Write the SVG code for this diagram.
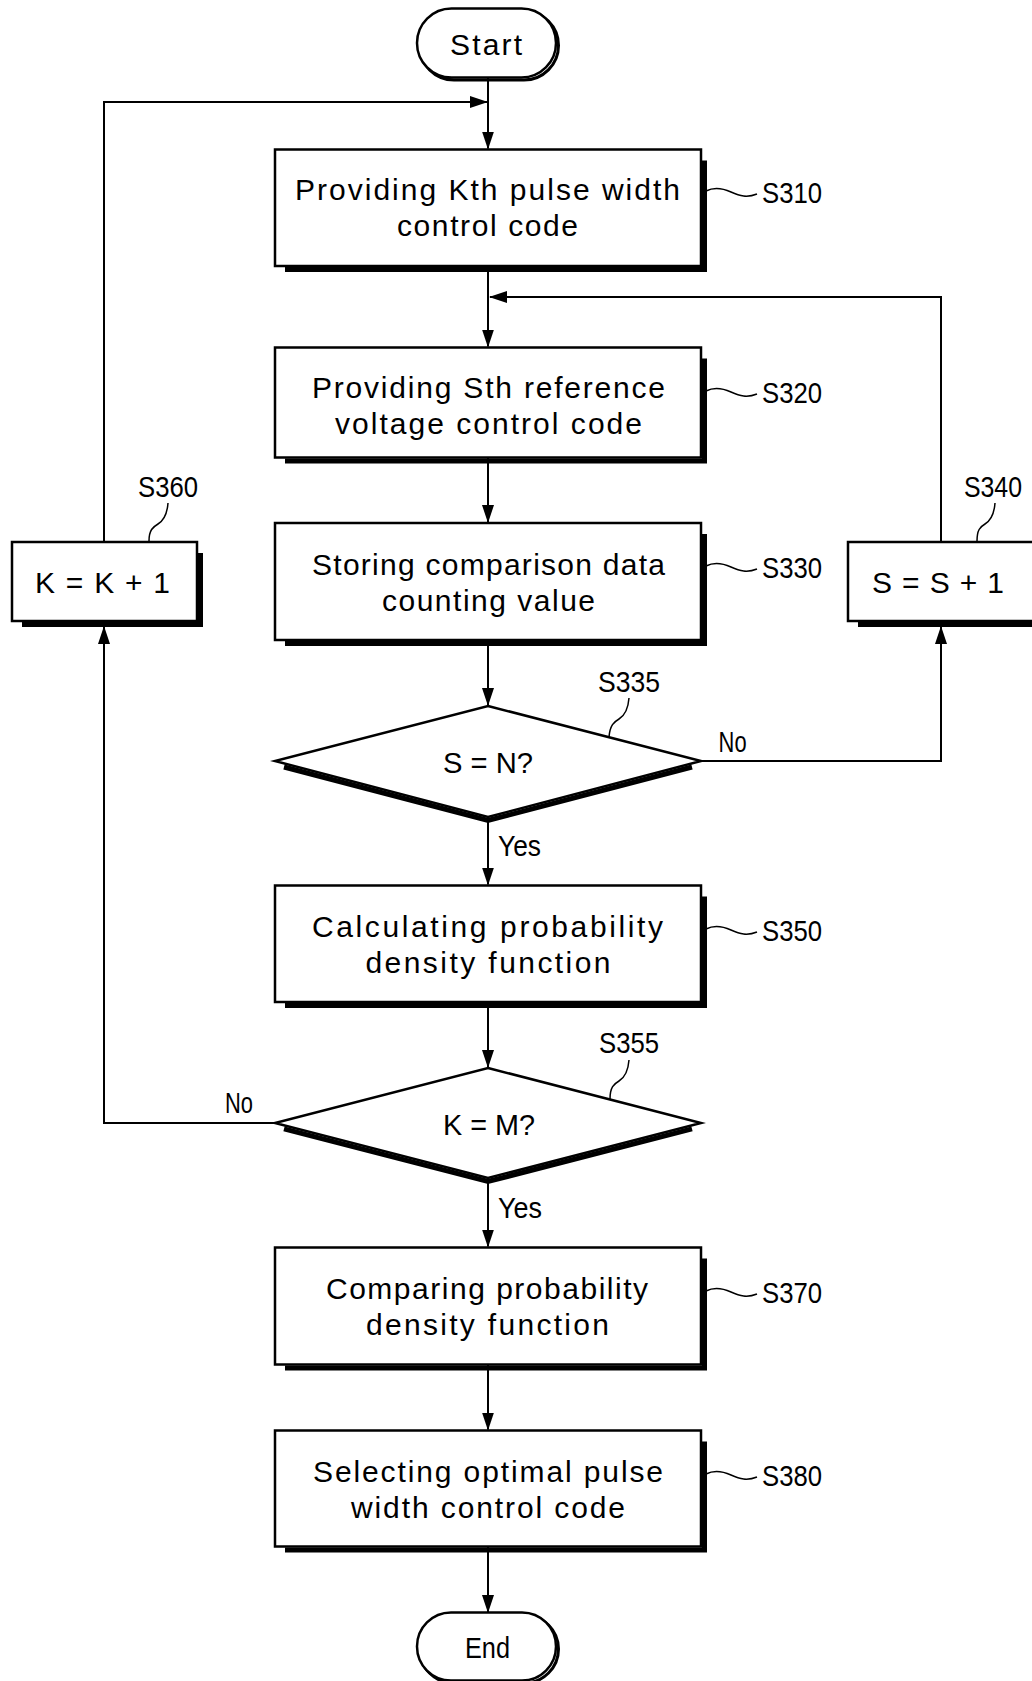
<svg xmlns="http://www.w3.org/2000/svg" width="1032" height="1681" viewBox="0 0 1032 1681">
<defs>
<marker id="ah" markerUnits="userSpaceOnUse" markerWidth="18" markerHeight="12" refX="17" refY="6" orient="auto">
<path d="M0,0 L18,6 L0,12 Z" fill="#000"/>
</marker>
<style>
.box{fill:#fff;stroke:#000;stroke-width:2.5}
.shd{fill:none;stroke:#000;stroke-width:5;stroke-linejoin:miter}
.pshd{fill:none;stroke:#000;stroke-width:3}
.con{fill:none;stroke:#000;stroke-width:2}
.ldr{fill:none;stroke:#000;stroke-width:1.5}
text{font-family:"Liberation Sans",Arial,sans-serif;font-size:30px;fill:#000}
</style>
</defs>
<rect width="1032" height="1681" fill="#fff"/>

<g id="connectors">
<path class="con" d="M488,78 V148.5" marker-end="url(#ah)"/>
<path class="con" d="M104,542 V102 H487" marker-end="url(#ah)"/>
<path class="con" d="M488,266 V346.5" marker-end="url(#ah)"/>
<path class="con" d="M941,542 V297 H490" marker-end="url(#ah)"/>
<path class="con" d="M488,457.5 V522" marker-end="url(#ah)"/>
<path class="con" d="M488,640 V705" marker-end="url(#ah)"/>
<path class="con" d="M701,761 H941 V627" marker-end="url(#ah)"/>
<path class="con" d="M488,817 V884.5" marker-end="url(#ah)"/>
<path class="con" d="M488,1002 V1067" marker-end="url(#ah)"/>
<path class="con" d="M275,1123 H104 V627" marker-end="url(#ah)"/>
<path class="con" d="M488,1178 V1246.5" marker-end="url(#ah)"/>
<path class="con" d="M488,1364.5 V1429.5" marker-end="url(#ah)"/>
<path class="con" d="M488,1546.5 V1612" marker-end="url(#ah)"/>
<text x="718.6" y="752" textLength="28" lengthAdjust="spacingAndGlyphs">No</text>
<text x="498" y="856" textLength="43" lengthAdjust="spacingAndGlyphs">Yes</text>
<text x="225" y="1113" textLength="28" lengthAdjust="spacingAndGlyphs">No</text>
<text x="498" y="1218" textLength="44" lengthAdjust="spacingAndGlyphs">Yes</text>
</g>

<g id="start">
<rect class="pshd" x="419.5" y="11" width="139" height="69" rx="34.5"/>
<rect class="box" x="417" y="8.5" width="139" height="69" rx="34.5"/>
<text x="450" y="55" textLength="72" lengthAdjust="spacing">Start</text>
</g>

<g id="S310">
<path class="shd" d="M704.5,160.5 V269.5 H285"/>
<rect class="box" x="275" y="149.5" width="426" height="116.5"/>
<text x="295" y="200" textLength="385" lengthAdjust="spacing">Providing Kth pulse width</text>
<text x="397" y="236" textLength="181" lengthAdjust="spacing">control code</text>
<path class="ldr" d="M706,191 C714,187 722,188 731,192 S747,198 757,194"/>
<text x="762" y="203" textLength="60" lengthAdjust="spacingAndGlyphs">S310</text>
</g>

<g id="S320">
<path class="shd" d="M704.5,358.5 V461 H285"/>
<rect class="box" x="275" y="347.5" width="426" height="110"/>
<text x="312" y="398" textLength="353" lengthAdjust="spacing">Providing Sth reference</text>
<text x="335" y="434" textLength="307" lengthAdjust="spacing">voltage control code</text>
<path class="ldr" d="M706,391 C714,387 722,388 731,392 S747,398 757,394"/>
<text x="762" y="403" textLength="60" lengthAdjust="spacingAndGlyphs">S320</text>
</g>

<g id="S330">
<path class="shd" d="M704.5,534 V643.5 H285"/>
<rect class="box" x="275" y="523" width="426" height="117"/>
<text x="312" y="575" textLength="353" lengthAdjust="spacing">Storing comparison data</text>
<text x="382" y="611" textLength="213" lengthAdjust="spacing">counting value</text>
<path class="ldr" d="M706,566 C714,562 722,563 731,567 S747,573 757,569"/>
<text x="762" y="578" textLength="60" lengthAdjust="spacingAndGlyphs">S330</text>
</g>

<g id="S335">
<path class="shd" d="M284,767 L488,820.5 L692,767"/>
<polygon class="box" points="488,706 701,761 488,817 275,761"/>
<text x="443" y="773" textLength="90" lengthAdjust="spacingAndGlyphs">S = N?</text>
<path class="ldr" d="M629,698 C628,711 624,716 619,719 S610,725 609,737"/>
<text x="598" y="692" textLength="62" lengthAdjust="spacingAndGlyphs">S335</text>
</g>

<g id="S340">
<path class="shd" d="M1040,553 V624.5 H858"/>
<rect class="box" x="848" y="542" width="200" height="79"/>
<text x="872" y="593" textLength="132" lengthAdjust="spacing">S = S + 1</text>
<path class="ldr" d="M995,503 C994,516 990,521 985,524 S977,530 977,541"/>
<text x="964" y="497" textLength="58" lengthAdjust="spacingAndGlyphs">S340</text>
</g>

<g id="S350">
<path class="shd" d="M704.5,896.5 V1005.5 H285"/>
<rect class="box" x="275" y="885.5" width="426" height="116.5"/>
<text x="312" y="937" textLength="351" lengthAdjust="spacing">Calculating probability</text>
<text x="365.5" y="973" textLength="245" lengthAdjust="spacing">density function</text>
<path class="ldr" d="M706,929 C714,925 722,926 731,930 S747,936 757,932"/>
<text x="762" y="941" textLength="60" lengthAdjust="spacingAndGlyphs">S350</text>
</g>

<g id="S355">
<path class="shd" d="M284,1128.8 L488,1181.5 L692,1128.8"/>
<polygon class="box" points="488,1068 701,1123 488,1178 275,1123"/>
<text x="443" y="1135" textLength="92" lengthAdjust="spacingAndGlyphs">K = M?</text>
<path class="ldr" d="M629,1060 C628,1073 624,1078 619,1081 S610,1087 610,1099"/>
<text x="599" y="1053" textLength="60" lengthAdjust="spacingAndGlyphs">S355</text>
</g>

<g id="S360">
<path class="shd" d="M200.5,553 V624.5 H22"/>
<rect class="box" x="12" y="542" width="185" height="79"/>
<text x="35" y="593" textLength="135" lengthAdjust="spacing">K = K + 1</text>
<path class="ldr" d="M168,503 C167,516 163,521 158,524 S149,530 149,541"/>
<text x="138" y="497" textLength="60" lengthAdjust="spacingAndGlyphs">S360</text>
</g>

<g id="S370">
<path class="shd" d="M704.5,1258.5 V1368 H285"/>
<rect class="box" x="275" y="1247.5" width="426" height="117"/>
<text x="326" y="1299" textLength="322" lengthAdjust="spacing">Comparing probability</text>
<text x="366" y="1335" textLength="243" lengthAdjust="spacing">density function</text>
<path class="ldr" d="M706,1291 C714,1287 722,1288 731,1292 S747,1298 757,1294"/>
<text x="762" y="1303" textLength="60" lengthAdjust="spacingAndGlyphs">S370</text>
</g>

<g id="S380">
<path class="shd" d="M704.5,1441.5 V1550 H285"/>
<rect class="box" x="275" y="1430.5" width="426" height="116"/>
<text x="313" y="1482" textLength="350" lengthAdjust="spacing">Selecting optimal pulse</text>
<text x="351" y="1518" textLength="274" lengthAdjust="spacing">width control code</text>
<path class="ldr" d="M706,1474 C714,1470 722,1471 731,1475 S747,1481 757,1477"/>
<text x="762" y="1486" textLength="60" lengthAdjust="spacingAndGlyphs">S380</text>
</g>

<g id="end">
<rect class="pshd" x="419.5" y="1615" width="139" height="68" rx="34"/>
<rect class="box" x="417" y="1612.5" width="139" height="68" rx="34"/>
<text x="465" y="1658" textLength="45" lengthAdjust="spacingAndGlyphs">End</text>
</g>
</svg>
